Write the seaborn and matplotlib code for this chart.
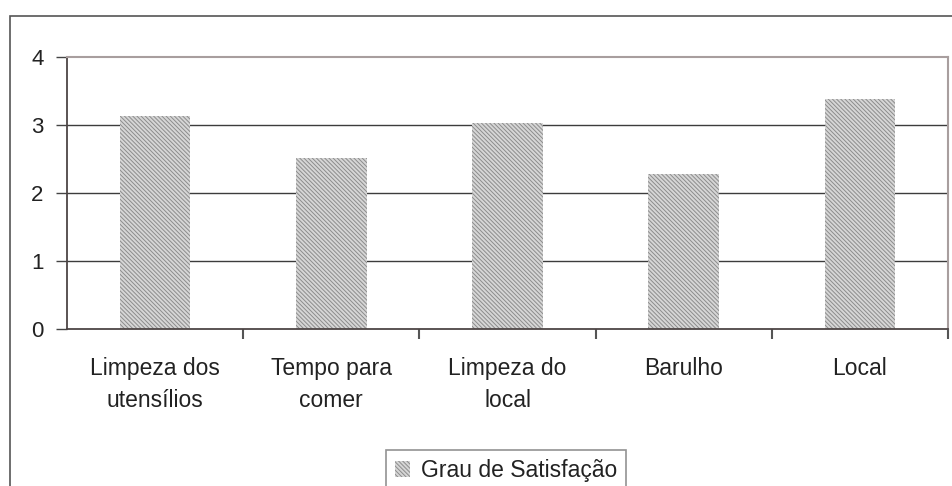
import pandas as pd
import seaborn as sns
import matplotlib.pyplot as plt
from matplotlib.patches import Rectangle
from matplotlib.ticker import FixedLocator

# dados
categorias = ["Limpeza dos\nutensílios", "Tempo para\ncomer", "Limpeza do\nlocal", "Barulho", "Local"]
valores = [3.13, 2.51, 3.03, 2.28, 3.38]
serie = "Grau de Satisfação"
y_ticks = [0, 1, 2, 3, 4]

df = pd.DataFrame({"Categoria": categorias, "Valor": valores, "Série": serie})

sns.set_theme(style="white")
plt.rcParams["font.family"] = ["Liberation Sans", "DejaVu Sans"]
plt.rcParams["hatch.color"] = "#8c8c8c"
plt.rcParams["hatch.linewidth"] = 0.7

fig = plt.figure(figsize=(9.52, 4.86), dpi=100)
ax = fig.add_axes([67 / 952, 1 - 329 / 486, (948 - 67) / 952, (329 - 57) / 486])

sns.barplot(data=df, x="Categoria", y="Valor", hue="Série",
            palette=["#d6d6d6"], width=0.4, ax=ax, legend=True)

hatch = "\\" * 8
for p in ax.patches:
    p.set_hatch(hatch)
    p.set_edgecolor("#8c8c8c")
    p.set_linewidth(0)

ax.set_xlim(-0.5, 4.5)
ax.set_ylim(0, 4)
ax.set_yticks(y_ticks)
ax.set_xlabel("")
ax.set_ylabel("")

# linhas de grade
for v in y_ticks[1:-1]:
    ax.axhline(v, color="#3c3c3c", lw=1.0, zorder=0.5)

ax.tick_params(axis="y", labelsize=16, length=8, width=1, color="#444444",
               pad=9, left=True, labelcolor="#222222")
ax.tick_params(axis="x", which="major", labelsize=16.5, length=0, pad=20,
               labelcolor="#222222")
for t in ax.get_xticklabels():
    t.set_linespacing(1.5)
ax.xaxis.set_minor_locator(FixedLocator([0.5, 1.5, 2.5, 3.5, 4.5]))
ax.tick_params(axis="x", which="minor", length=7, width=1.5, color="#555555",
               bottom=True, direction="out")

for s in ["left", "bottom"]:
    ax.spines[s].set_color("#4d4545")
    ax.spines[s].set_linewidth(1.3)
for s in ["top", "right"]:
    ax.spines[s].set_color("#a89e9e")
    ax.spines[s].set_linewidth(1.5)

# moldura externa
fig.add_artist(Rectangle((10 / 952, -0.1), 1.2, 1 - 16 / 486 + 0.1,
                         transform=fig.transFigure, fill=False,
                         edgecolor="#555555", lw=1.2))

leg = ax.legend(loc="upper center", bbox_to_anchor=(506 / 952, 1 - 450 / 486),
                bbox_transform=fig.transFigure, frameon=True, fancybox=False,
                fontsize=16.5, handlelength=0.65, handleheight=0.65,
                handletextpad=0.5, borderpad=0.4, borderaxespad=0,
                edgecolor="#777777", labelcolor="#222222")
leg.get_frame().set_linewidth(1.2)
for h in leg.legend_handles:
    h.set_hatch(hatch)
    h.set_linewidth(0)

fig.savefig("out.png", dpi=100)
